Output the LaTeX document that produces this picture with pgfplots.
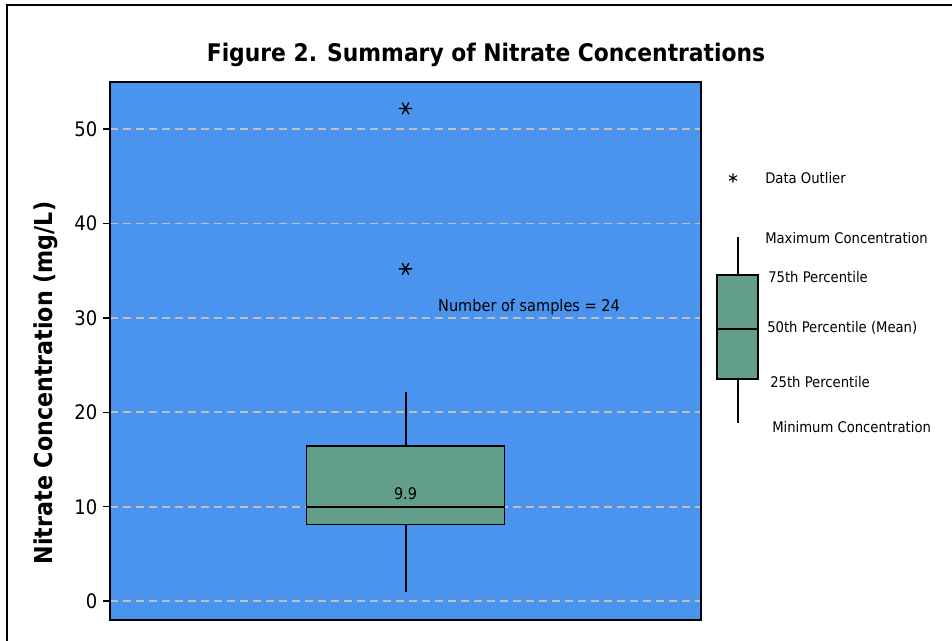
\documentclass[border=0pt]{standalone}
\usepackage{fontspec}
\setmainfont{DejaVu Sans Condensed}
\usepackage{pgfplots}
\pgfplotsset{compat=1.18}
\usepgfplotslibrary{statistics}
\definecolor{bgblue}{RGB}{74,148,240}
\definecolor{boxgreen}{RGB}{98,158,138}
\definecolor{gridgray}{RGB}{192,192,192}
\pgfplotsset{
  boxplot/draw direction=y,
  boxplot/every box/.style={draw=black,line width=1.1pt,fill=boxgreen},
  boxplot/every median/.style={black,line width=1.1pt},
  boxplot/draw/lower whisker/.code={%
    \draw[black,line width=1.5pt]
      (boxplot cs:\pgfplotsboxplotvalue{lower quartile}) --
      (boxplot cs:\pgfplotsboxplotvalue{lower whisker});
  },
  boxplot/draw/upper whisker/.code={%
    \draw[black,line width=1.5pt]
      (boxplot cs:\pgfplotsboxplotvalue{upper quartile}) --
      (boxplot cs:\pgfplotsboxplotvalue{upper whisker});
  },
}
\begin{document}
\begin{tikzpicture}
\path[use as bounding box] (0,0) rectangle (714pt,480.75pt);
\draw[line width=1.1pt] (5.25pt,0) -- (5.25pt,477pt) -- (714pt,477pt);
\node[font=\bfseries\fontsize{18.2}{20}\selectfont] at (364.5pt,439.5pt) {Figure 2. Summary of Nitrate Concentrations};
\node[font=\bfseries\fontsize{18.5}{20}\selectfont,rotate=90] at (34.5pt,193.5pt) {Nitrate Concentration (mg/L)};
\begin{axis}[
  at={(82.5pt,15.75pt)}, anchor=south west,
  scale only axis, width=443.25pt, height=403.5pt,
  xmin=0, xmax=2, ymin=-2, ymax=55,
  xtick=\empty,
  ytick={0,10,20,30,40,50}, ytick pos=left,
  tick align=outside, major tick length=5pt,
  tick style={line width=1.1pt,black},
  axis line style={line width=1.1pt},
  ymajorgrids,
  major grid style={gridgray,line width=1.3pt,dash pattern=on 6pt off 3.75pt},
  axis background/.style={fill=bgblue},
  /pgf/number format/assume math mode=true,
  ticklabel style={font=\fontsize{15}{17}\selectfont},
  yticklabel style={xshift=-1pt},
  clip=false,
]
\addplot+[boxplot prepared={draw direction=y, draw position=1, box extend=0.67,
    lower whisker=1.0, lower quartile=8.1, median=9.95,
    upper quartile=16.45, upper whisker=22.2},
  draw=black, line width=1.1pt, fill=boxgreen,
  mark=asterisk, mark size=5pt, mark options={black,fill=none,line width=1pt,rotate=90}]
  table[row sep=\\, y index=0] {52.2\\35.2\\};
\node[font=\fontsize{12}{14}\selectfont] at (axis cs:1,11.35) {9.9};
\node[font=\fontsize{12.1}{14}\selectfont] at (axis cs:1.418,31.16) {Number of samples = 24};
\end{axis}
\begin{axis}[
  at={(525pt,0pt)}, anchor=south west,
  scale only axis, width=189pt, height=480.75pt,
  xmin=700, xmax=952, ymin=0, ymax=641,
  hide axis, clip=false,
]
\addplot+[boxplot prepared={draw direction=y, draw position=737.5, box extend=41,
    lower whisker=218, lower quartile=262, median=312,
    upper quartile=366, upper whisker=404},
  draw=black, line width=1.1pt, fill=boxgreen, mark=none]
  coordinates {};
\addplot[only marks, mark=asterisk, mark size=3.5pt, mark options={black,line width=0.8pt}] coordinates {(733,463)};
\begin{scope}[every node/.style={anchor=west,font=\fontsize{11}{13}\selectfont,inner sep=0pt}]
\node at (axis cs:765,463) {Data Outlier};
\node at (axis cs:765,403) {Maximum Concentration};
\node at (axis cs:768,364) {75th Percentile};
\node at (axis cs:767,313) {50th Percentile (Mean)};
\node at (axis cs:770,259) {25th Percentile};
\node at (axis cs:772,214) {Minimum Concentration};
\end{scope}
\end{axis}
\end{tikzpicture}
\end{document}
